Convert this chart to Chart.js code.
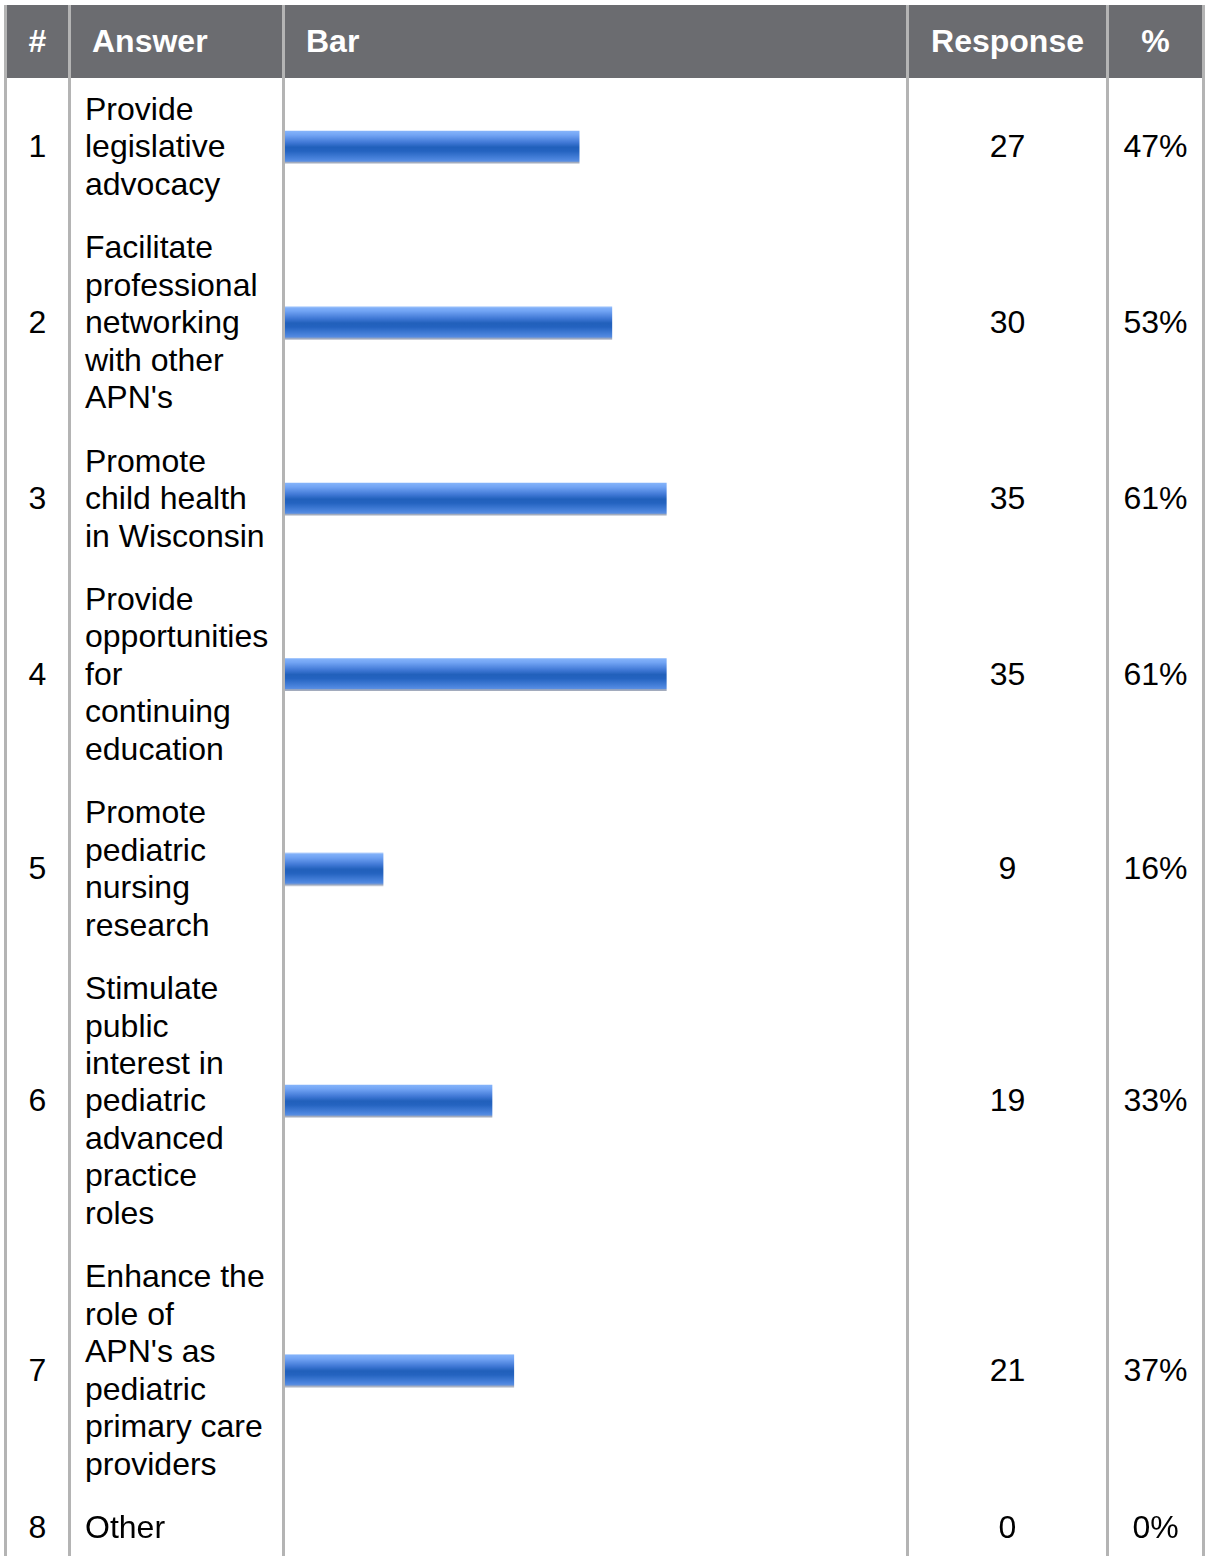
<!DOCTYPE html>
<html>
<head>
<meta charset="utf-8">
<script src="https://cdn.jsdelivr.net/npm/chart.js@4/dist/chart.umd.min.js"></script>
<style>
  html, body { margin: 0; padding: 0; background: #fff; }
  body { width: 1208px; height: 1556px; overflow: hidden; font-family: "Liberation Sans", Arial, sans-serif; }
  #grid { position: absolute; left: 4px; top: 5px; }
  .row { display: flex; }
  .cell { box-sizing: border-box; border-left: 3px solid #b4b4b4; display: flex; align-items: center; position: relative; }
  .cell.last { border-right: 3px solid #b4b4b4; }
  .c-num { width: 64px; justify-content: center; }
  .c-ans { width: 214px; }
  .c-bar { width: 624px; }
  .c-resp { width: 200px; justify-content: center; }
  .c-pct { width: 99px; justify-content: center; }
  .head .cell { background: #6b6c70; color: #fff; font-weight: bold; font-size: 32px; height: 73px; }
  .head .c-ans, .head .c-bar { padding-left: 21px; }
  .body .cell { font-size: 32px; color: #000; line-height: 37.45px; }
  .body .c-ans { padding: 13px 0 13px 14px; white-space: nowrap; }
  .chartBox { position: absolute; left: 0; top: 0; right: 0; bottom: 0; }
</style>
</head>
<body>
<div id="grid"></div>
<script>
const headers = ['#', 'Answer', 'Bar', 'Response', '%'];
const answers = [
  ['Provide', 'legislative', 'advocacy'],
  ['Facilitate', 'professional', 'networking', 'with other', "APN's"],
  ['Promote', 'child health', 'in Wisconsin'],
  ['Provide', 'opportunities', 'for', 'continuing', 'education'],
  ['Promote', 'pediatric', 'nursing', 'research'],
  ['Stimulate', 'public', 'interest in', 'pediatric', 'advanced', 'practice', 'roles'],
  ['Enhance the', 'role of', "APN's as", 'pediatric', 'primary care', 'providers'],
  ['Other']
];
const responses = [27, 30, 35, 35, 9, 19, 21, 0];
const percentLabels = ['47%', '53%', '61%', '61%', '16%', '33%', '37%', '0%'];
const totalRespondents = 57;

const grid = document.getElementById('grid');
const cls = ['c-num', 'c-ans', 'c-bar', 'c-resp', 'c-pct'];

function makeRow(values, rowClass) {
    const row = document.createElement('div');
    row.className = 'row ' + rowClass;
    const cells = values.map((v, i) => {
        const c = document.createElement('div');
        c.className = 'cell ' + cls[i] + (i === values.length - 1 ? ' last' : '');
        if (Array.isArray(v)) c.innerHTML = '<div>' + v.join('<br>') + '</div>';
        else c.textContent = v;
        row.appendChild(c);
        return c;
    });
    grid.appendChild(row);
    return cells;
}

makeRow(headers, 'head');

const barCells = answers.map((lines, i) => {
    const cells = makeRow([String(i + 1), lines, '', String(responses[i]), percentLabels[i]], 'body');
    return cells[2];
});

// glossy blue fill, light at the top, dark band in the middle
function barGradient(context) {
    const chart = context.chart;
    const mid = chart.height / 2;
    const g = chart.ctx.createLinearGradient(0, mid - 16, 0, mid + 16);
    g.addColorStop(0, '#84b3fa');
    g.addColorStop(0.12, '#72a4f4');
    g.addColorStop(0.35, '#4179d6');
    g.addColorStop(0.5, '#2160bb');
    g.addColorStop(0.62, '#2463c0');
    g.addColorStop(0.88, '#4c85de');
    g.addColorStop(0.94, '#5a8ee0');
    g.addColorStop(0.97, '#a2abbd');
    g.addColorStop(1, '#a2abbd');
    return g;
}

barCells.forEach((cell, i) => {
    if (responses[i] === 0) return;
    const box = document.createElement('div');
    box.className = 'chartBox';
    const canvas = document.createElement('canvas');
    box.appendChild(canvas);
    cell.appendChild(box);

    new Chart(canvas.getContext('2d'), {
        type: 'bar',
        data: {
            labels: [answers[i].join(' ')],
            datasets: [{
                data: [responses[i]],
                backgroundColor: barGradient,
                borderWidth: 0,
                barThickness: 32,
            }],
        },
        options: {
            indexAxis: 'y',
            responsive: true,
            maintainAspectRatio: false,
            animation: false,
            layout: { padding: 0 },
            plugins: {
                legend: { display: false },
                tooltip: { enabled: false },
            },
            scales: {
                x: { display: false, min: 0, max: totalRespondents },
                y: { display: false },
            },
        },
    });
});
</script>
</body>
</html>
